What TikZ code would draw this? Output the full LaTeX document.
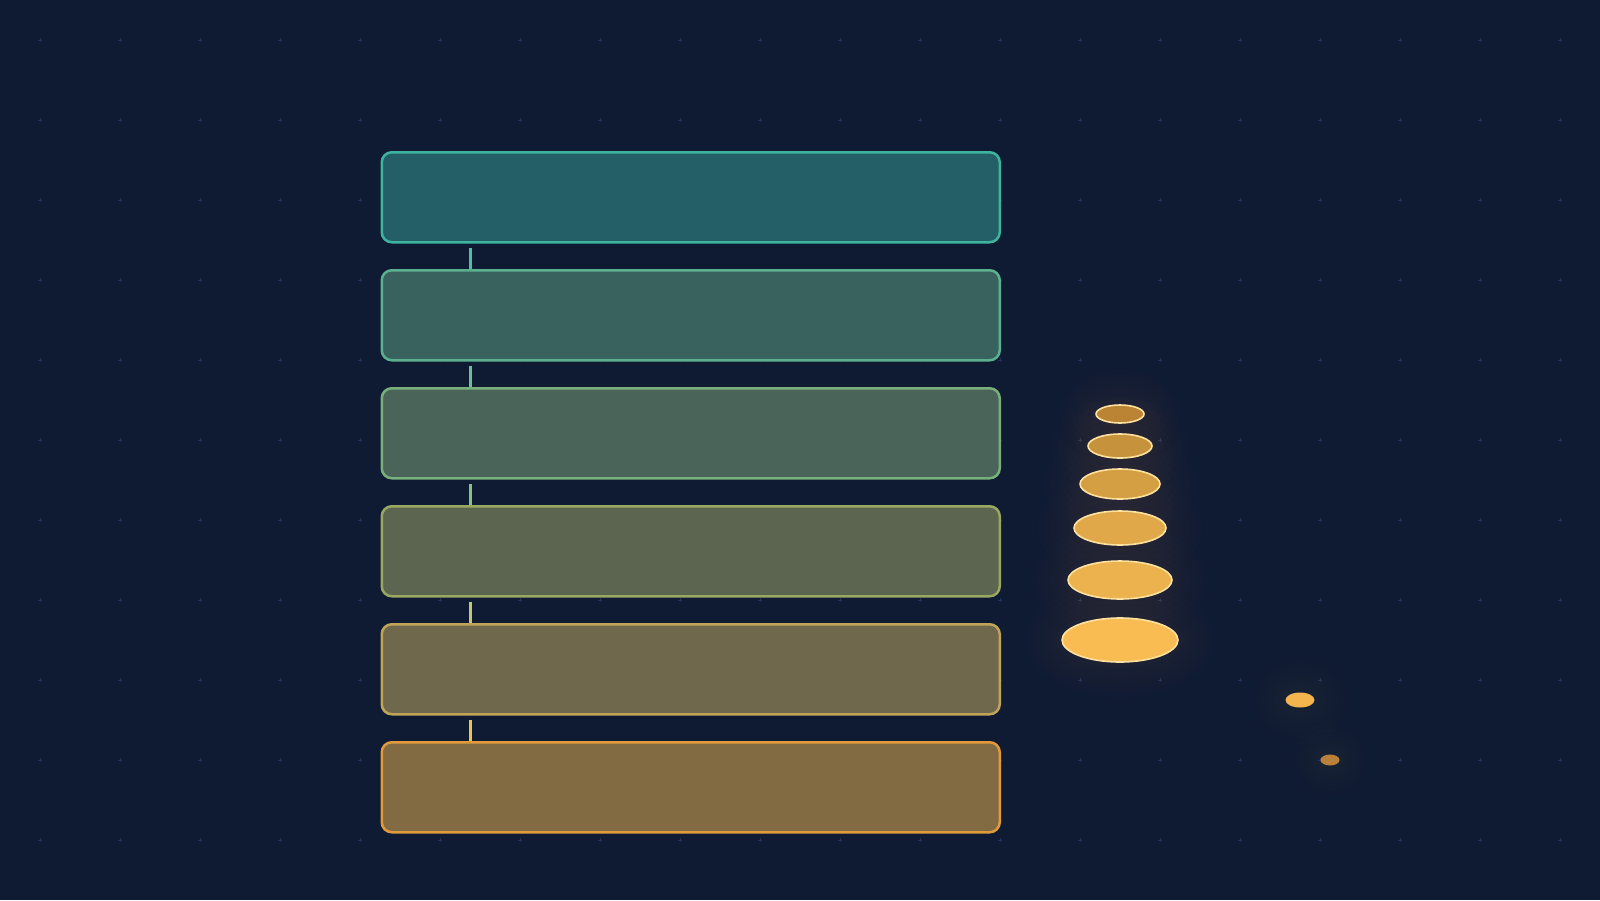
\documentclass[tikz,border=0pt]{standalone}
\usetikzlibrary{shapes.geometric}
\definecolor{bg}{HTML}{0F1A33}
\definecolor{gridc}{HTML}{26335A}
\definecolor{fA}{HTML}{245F68}\definecolor{bA}{HTML}{3DB3A0}
\definecolor{fB}{HTML}{39625F}\definecolor{bB}{HTML}{5BB08F}
\definecolor{fC}{HTML}{4B645A}\definecolor{bC}{HTML}{78B07C}
\definecolor{fD}{HTML}{5C6550}\definecolor{bD}{HTML}{98A860}
\definecolor{fE}{HTML}{6F684C}\definecolor{bE}{HTML}{C0A458}
\definecolor{fF}{HTML}{826A42}\definecolor{bF}{HTML}{E09A3C}
\definecolor{cA}{HTML}{4CC0A8}\definecolor{cB}{HTML}{6CC098}
\definecolor{cC}{HTML}{8CC080}\definecolor{cD}{HTML}{C0C878}
\definecolor{cE}{HTML}{F0C050}
\definecolor{eA}{HTML}{BA8434}\definecolor{eB}{HTML}{C6923C}
\definecolor{eC}{HTML}{D49E42}\definecolor{eD}{HTML}{E0A848}
\definecolor{eE}{HTML}{ECB24E}\definecolor{eF}{HTML}{F8BC52}
\definecolor{erim}{HTML}{FFE2A0}
\definecolor{glowc}{HTML}{F5B54E}
\definecolor{boxglow}{HTML}{8A8A70}
\definecolor{dotA}{HTML}{F5B54E}\definecolor{dotB}{HTML}{B88038}
\tikzset{
  layerbox/.style={draw, line width=1.25pt, rounded corners=5pt, minimum width=309pt, minimum height=45pt, inner sep=0pt, anchor=north west},
  link/.style={line width=1.75pt},
  disc/.style={ellipse, draw=erim, line width=0.8pt, inner sep=0pt},
  dot/.style={ellipse, inner sep=0pt, draw=none},
  gridmark/.style={draw=gridc, line width=0.5pt}
}
\begin{document}
\begin{tikzpicture}[x=0.5pt,y=-0.5pt]
\fill[bg] (0,0) rectangle (1600,900);
\useasboundingbox (0,0) rectangle (1600,900);
% grid marks
\foreach \gx in {40,120,...,1560}{
  \foreach \gy in {40,120,...,840}{
    \draw[gridmark] (\gx-2,\gy) -- (\gx+2,\gy) (\gx,\gy-2) -- (\gx,\gy+2);
  }
}
% soft glow behind boxes
\foreach \k in {1,...,8}{
  \fill[boxglow, opacity=0.008, rounded corners=12pt] (381-3*\k,152-3*\k) rectangle (999+3*\k,831+3*\k);
}
% boxes
\node[layerbox, draw=bA, fill=fA] (b1) at (380.5,151) {};
\node[layerbox, draw=bB, fill=fB] (b2) at (380.5,269) {};
\node[layerbox, draw=bC, fill=fC] (b3) at (380.5,387) {};
\node[layerbox, draw=bD, fill=fD] (b4) at (380.5,505) {};
\node[layerbox, draw=bE, fill=fE] (b5) at (380.5,623) {};
\node[layerbox, draw=bF, fill=fF] (b6) at (380.5,741) {};
% connectors
\draw[link, cA] ([xshift=45pt,yshift=-2pt]b1.south west) -- ([xshift=45pt]b2.north west);
\draw[link, cB] ([xshift=45pt,yshift=-2pt]b2.south west) -- ([xshift=45pt]b3.north west);
\draw[link, cC] ([xshift=45pt,yshift=-2pt]b3.south west) -- ([xshift=45pt]b4.north west);
\draw[link, cD] ([xshift=45pt,yshift=-2pt]b4.south west) -- ([xshift=45pt]b5.north west);
\draw[link, cE] ([xshift=45pt,yshift=-2pt]b5.south west) -- ([xshift=45pt]b6.north west);
% glow behind discs
\foreach \cy/\rx/\ry in {414/24/9,446/32/12,484/40/15,528/46/17,580/52/19,640/58/22}{
  \foreach \k in {1,...,6}{
    \fill[glowc, opacity=0.012] (1120,\cy) ellipse ({\rx+6*\k} and {\ry+6*\k});
  }
}
\foreach \k in {1,...,6}{
  \fill[glowc, opacity=0.008] (1300,700) ellipse ({14+6*\k} and {8+6*\k});
  \fill[glowc, opacity=0.006] (1330,760) ellipse ({9+5*\k} and {6+5*\k});
}
% discs
\node[disc, fill=eA, minimum width=24pt, minimum height=9pt] (d1) at (1120,414) {};
\node[disc, fill=eB, minimum width=32pt, minimum height=12pt] (d2) at (1120,446) {};
\node[disc, fill=eC, minimum width=40pt, minimum height=15pt] (d3) at (1120,484) {};
\node[disc, fill=eD, minimum width=46pt, minimum height=17pt] (d4) at (1120,528) {};
\node[disc, fill=eE, minimum width=52pt, minimum height=19pt] (d5) at (1120,580) {};
\node[disc, fill=eF, minimum width=58pt, minimum height=22pt] (d6) at (1120,640) {};
% stray dots
\node[dot, fill=dotA, minimum width=14.5pt, minimum height=7.5pt] (s1) at (1300,700) {};
\node[dot, fill=dotB, minimum width=9.5pt, minimum height=5.5pt] (s2) at (1330,760) {};
\end{tikzpicture}
\end{document}
